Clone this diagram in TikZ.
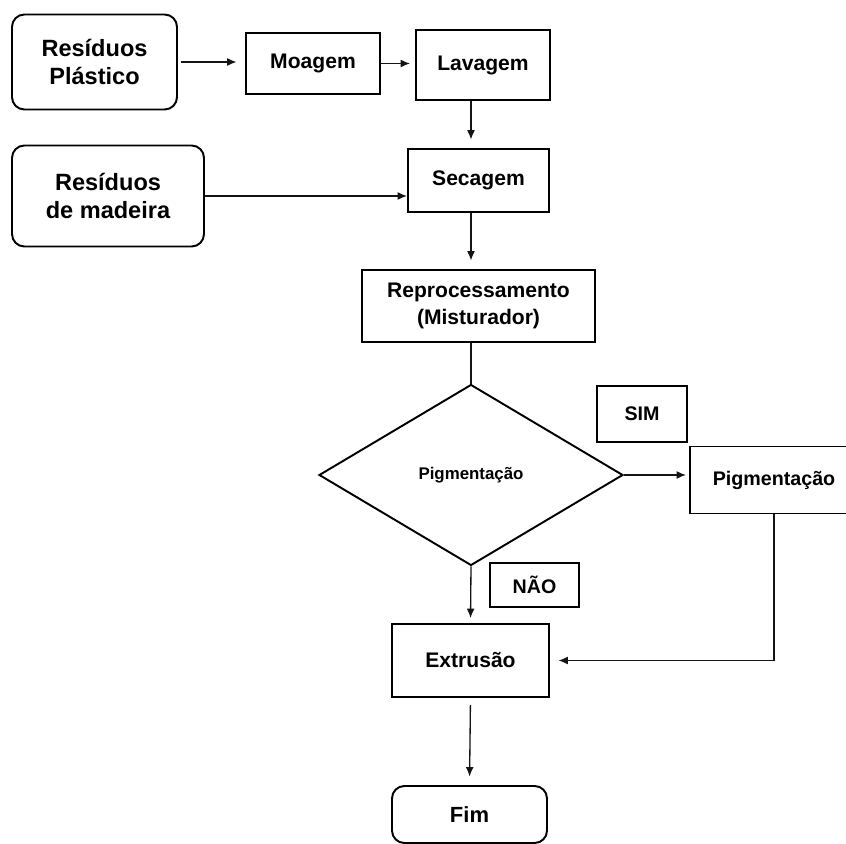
\documentclass[tikz,border=0pt]{standalone}
\usepackage{fontspec}
\setmainfont{Liberation Sans}
\usepackage{tikz}
\usetikzlibrary{shapes.geometric, arrows.meta, positioning, calc}
\definecolor{mydark}{RGB}{20,20,20}
\tikzset{
  block/.style={rectangle, draw=black, fill=white,
    align=center, inner sep=0pt, line width=1.1pt,
    font=\fontsize{12}{15.4}\selectfont\bfseries},
  roundblock/.style={block, rounded corners=7pt,
    font=\fontsize{13.4}{16.2}\selectfont\bfseries},
  labelblock/.style={block, font=\fontsize{11.2}{13}\selectfont\bfseries},
  decision/.style={diamond, draw=black, fill=white, inner sep=0pt,
    line width=1.1pt, font=\fontsize{9.6}{11}\selectfont\bfseries},
  arrow/.style={-{Latex[length=1.9mm,width=1.6mm]}, line width=0.75pt,
    color=mydark, shorten >=0.17cm},
  line/.style={line width=0.75pt, color=mydark}
}

\begin{document}
\begin{tikzpicture}[x=0.02cm, y=-0.02cm]
  \useasboundingbox (0,0) rectangle (846,844);

  % Inputs
  \node[roundblock, minimum width=3.3cm, minimum height=1.9cm] (plast) at (94.5,62) {Resíduos\\Plástico};
  \node[roundblock, minimum width=3.84cm, minimum height=2.02cm] (madeira) at (108,196) {Resíduos\\de madeira};

  % Process
  \node[block, minimum width=2.68cm, minimum height=1.22cm] (moagem) at (313,63.5) {Moagem};
  \node[block, minimum width=2.68cm, minimum height=1.4cm] (lavagem) at (483,65) {Lavagem};
  \node[block, minimum width=2.82cm, minimum height=1.26cm] (secagem) at (478.5,180.5) {Secagem};
  \node[block, minimum width=4.66cm, minimum height=1.44cm] (reproc) at (478.5,306) {Reprocessamento\\(Misturador)};

  % Decision
  \node[decision, minimum width=6.08cm, minimum height=3.62cm] (dec) at (471,475) {Pigmentação};
  \node[labelblock, minimum width=1.8cm, minimum height=1.12cm] (sim) at (642,414) {SIM};
  \node[labelblock, minimum width=1.78cm, minimum height=0.88cm] (nao) at (534.5,585) {NÃO};
  \node[labelblock, minimum width=3.36cm, minimum height=1.34cm] (pig) at (774,480) {Pigmentação};

  % Output
  \node[block, minimum width=3.14cm, minimum height=1.46cm] (extr) at (470.5,660.5) {Extrusão};
  \node[block, rounded corners=7pt, minimum width=3.1cm, minimum height=1.14cm,
    font=\fontsize{12.5}{15}\selectfont\bfseries] (fim) at (469.5,814.5) {Fim};

  % Edges
  \draw[arrow, shorten <=0.06cm] (plast.east) -- (plast.east -| moagem.west);
  \draw[arrow, shorten >=0.1cm] (moagem.east) -- (moagem.east -| lavagem.west);
  \draw[arrow] (lavagem.south -| dec) -- (secagem.north -| dec);
  \draw[arrow, shorten >=0pt] (madeira.east) -- (madeira.east -| secagem.west);
  \draw[arrow] (secagem.south -| dec) -- (reproc.north -| dec);
  \draw[line] (reproc.south -| dec) -- (dec.north);
  \draw[arrow, shorten >=0.06cm] (dec.east) -- (dec.east -| pig.west);
  \draw[arrow, shorten >=0.1cm] (dec.south) -- (extr.north);
  \draw[arrow] (pig.south) |- (extr.east);
  \draw[arrow, shorten <=0.14cm] (extr.south) -- (fim.north);
\end{tikzpicture}
\end{document}
